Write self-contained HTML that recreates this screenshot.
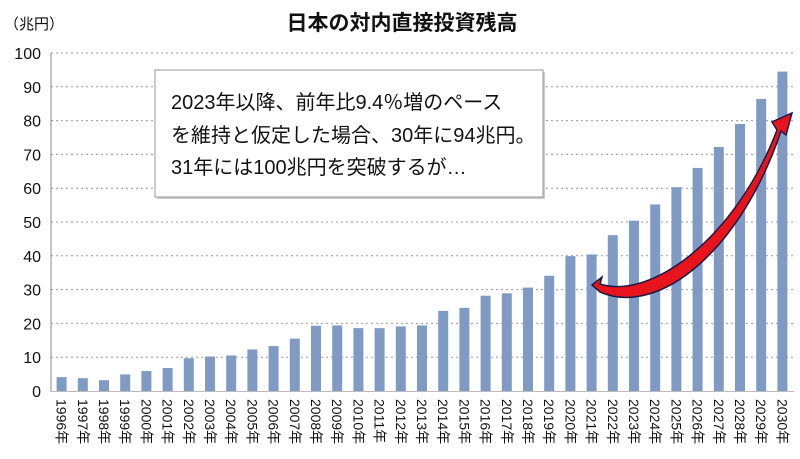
<!DOCTYPE html>
<html><head><meta charset="utf-8"><style>
body{margin:0;background:#fff;}
svg{display:block;font-family:"Liberation Sans","Noto Sans CJK JP",sans-serif;}
</style></head><body>
<svg id="chart" width="800" height="459">
<text x="402" y="30" text-anchor="middle" font-size="21" font-weight="bold" fill="#111">日本の対内直接投資残高</text>
<text x="4" y="29" font-size="15" fill="#111">（兆円）</text>
<g id="grid"></g><g id="bars"></g><g id="xlabels"></g><g id="ylabels"></g>
<line x1="51" y1="53" x2="51" y2="392" stroke="#888"/>
<line x1="51" y1="391.5" x2="794" y2="391.5" stroke="#bbb"/>
<g>
<rect x="157" y="72" width="388" height="127" fill="#ccc"/>
<rect x="155" y="70" width="388" height="127" fill="#fff" stroke="#999" stroke-width="1"/>
<text x="171" y="109" font-size="20" fill="#111">2023年以降、前年比9.4％増のペース</text>
<text x="171" y="142" font-size="20" fill="#111">を維持と仮定した場合、30年に94兆円。</text>
<text x="171" y="174" font-size="20" fill="#111">31年には100兆円を突破するが…</text>
</g>
<path d="M592,285 L602,277 L600,284 C650,300 735,240 777,130 L772,122 L792,113 L786,135 L781,131 C742,248 660,318 600,292 Z" fill="#e8141c" stroke="#1a1a4a" stroke-width="1.5"/>
</svg>
<script>
const years=["1996年","1997年","1998年","1999年","2000年","2001年","2002年","2003年","2004年","2005年","2006年","2007年","2008年","2009年","2010年","2011年","2012年","2013年","2014年","2015年","2016年","2017年","2018年","2019年","2020年","2021年","2022年","2023年","2024年","2025年","2026年","2027年","2028年","2029年","2030年"];
const values=[4.1,3.8,3.2,4.9,5.9,6.8,9.7,10.2,10.5,12.3,13.3,15.5,19.3,19.4,18.6,18.6,19.1,19.4,23.7,24.6,28.2,28.9,30.6,34.1,39.9,40.4,46.1,50.4,55.2,60.3,66.0,72.2,79.0,86.4,94.5];
const yTicks=[0,10,20,30,40,50,60,70,80,90,100];
const NS="http://www.w3.org/2000/svg";
const x0=51,x1=793,yb=391,yt=53;
const band=(x1-x0)/years.length;
const xC=i=>x0+band*(i+0.5);
const yS=v=>yb-(v/100)*(yb-yt);
function mk(t,a,p){const e=document.createElementNS(NS,t);for(const k in a)e.setAttribute(k,a[k]);p.appendChild(e);return e;}
const g=document.getElementById('grid'),b=document.getElementById('bars'),xl=document.getElementById('xlabels'),yl=document.getElementById('ylabels');
yTicks.forEach(v=>{
 if(v>0){const l=mk('line',{x1:x0,x2:x1,y1:yS(v),y2:yS(v),stroke:'#999','stroke-dasharray':'2,3'},g);
 
 }
 const t=mk('text',{x:41,y:yS(v)+6,'text-anchor':'end','font-size':'16',fill:'#111'},yl);
 t.textContent=v;
 
 
});
years.forEach((y,i)=>{
 const r=mk('rect',{x:xC(i)-5,y:yS(values[i]),width:10,height:yb-yS(values[i]),fill:'#7f9bc4'},b);
 
 
 const t=mk('text',{x:0,y:0,'font-size':'14',fill:'#111',transform:`translate(${xC(i)-5},399) rotate(90)`},xl);
 t.textContent=y;
 
 
});
</script>
</body></html>
